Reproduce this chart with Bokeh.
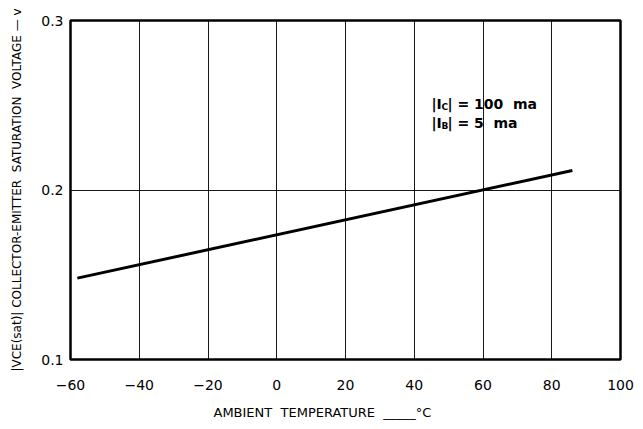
from bokeh.plotting import figure
from bokeh.embed import file_html
from bokeh.resources import INLINE
from bokeh.models import FixedTicker, Range1d, Title
from bokeh.core.properties import value

# data
temperature_c = [-58, 86]
vce_sat_v = [0.148, 0.2115]

x_ticks = [-60, -40, -20, 0, 20, 40, 60, 80, 100]
y_ticks = [0.1, 0.2, 0.3]

note_x = [45]
note_line1_y = [0.251]
note_line2_y = [0.2398]

FONT = "DejaVu Sans"
SP = " \u00a0"  # wide word gap

p = figure(width=643, height=429, output_backend="svg", toolbar_location=None,
           x_range=Range1d(-60, 100), y_range=Range1d(0.1, 0.3),
           min_border_left=70, min_border_right=23, min_border_top=20, min_border_bottom=69)
p.background_fill_color = "white"
p.border_fill_color = "white"
p.outline_line_color = "black"
p.outline_line_width = 2.5

for ax in (p.xaxis[0], p.yaxis[0]):
    ax.axis_line_color = None
    ax.major_tick_line_color = None
    ax.minor_tick_line_color = None
    ax.major_tick_out = 0
    ax.major_tick_in = 0
    ax.minor_tick_out = 0
    ax.minor_tick_in = 0
    ax.major_label_text_font = FONT
    ax.major_label_text_font_size = "14px"
    ax.major_label_text_color = "black"
    ax.axis_label_text_font = FONT
    ax.axis_label_text_font_style = "normal"
    ax.axis_label_text_color = "black"

p.xaxis.ticker = FixedTicker(ticks=x_ticks)
p.yaxis.ticker = FixedTicker(ticks=y_ticks)
p.xaxis.major_label_overrides = {t: ("\u2212" + str(abs(t)) if t < 0 else str(t)) for t in x_ticks}
p.yaxis.major_label_overrides = {0.1: "0.1", 0.2: "0.2", 0.3: "0.3"}
p.xaxis.major_label_standoff = 20
p.yaxis.major_label_standoff = 7

p.yaxis.axis_label = "|VCE(sat)| COLLECTOR-EMITTER" + SP + "SATURATION" + SP + "VOLTAGE \u2014 v"
p.yaxis.axis_label_text_font_size = "12px"
p.yaxis.axis_label_standoff = 14

# x axis title placed below, offset to match the original position
p.add_layout(Title(text="AMBIENT" + SP + "TEMPERATURE" + SP + "_____\u00b0C", align="left", offset=143,
                   text_font=FONT, text_font_size="13px", text_font_style="normal",
                   text_color="black", standoff=20), "below")

p.xgrid.grid_line_color = "black"
p.ygrid.grid_line_color = "black"
p.xgrid.grid_line_width = 1
p.ygrid.grid_line_width = 1
p.grid.grid_line_alpha = 0.9

p.line(temperature_c, vce_sat_v, line_color="black", line_width=3)

# annotation with subscripts built from pieces
for yy, sub, rest in ((note_line1_y, "C", "| = 100" + SP + "ma"), (note_line2_y, "B", "| = 5" + SP + "ma")):
    p.text(x=note_x, y=yy, text=["|I"], text_font=value(FONT), text_font_style="bold",
           text_font_size="14px", text_color="black", text_baseline="alphabetic")
    p.text(x=note_x, y=yy, text=[sub], text_font=value(FONT), text_font_style="bold",
           text_font_size="9px", text_color="black", x_offset=10, y_offset=3, text_baseline="alphabetic")
    p.text(x=note_x, y=yy, text=[rest], text_font=value(FONT), text_font_style="bold",
           text_font_size="14px", text_color="black", x_offset=16, text_baseline="alphabetic")

open("out.html", "w").write(file_html(p, INLINE))
